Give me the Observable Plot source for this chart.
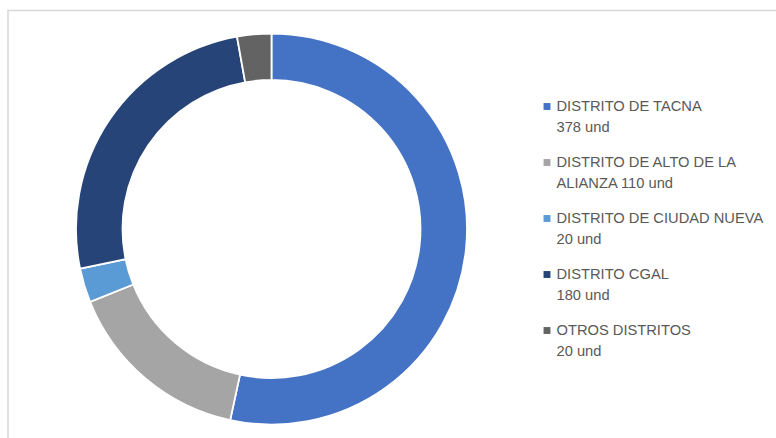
<!DOCTYPE html>
<html><head><meta charset="utf-8">
<script src="https://cdn.jsdelivr.net/npm/d3@7"></script>
<script src="https://cdn.jsdelivr.net/npm/@observablehq/plot@0.6"></script>
<style>body{margin:0;background:#fff;overflow:hidden;}</style>
</head><body><div id="chart"></div>
<script>
const categories = ["DISTRITO DE TACNA", "DISTRITO DE ALTO DE LA ALIANZA", "DISTRITO DE CIUDAD NUEVA", "DISTRITO CGAL", "OTROS DISTRITOS"];
const values = [378, 110, 20, 180, 20];
const colors = ["#4472C4", "#A5A5A5", "#5B9BD5", "#264478", "#636363"];
const legendLine1 = ["DISTRITO DE TACNA", "DISTRITO DE ALTO DE LA", "DISTRITO DE CIUDAD NUEVA", "DISTRITO CGAL", "OTROS DISTRITOS"];
const legendLine2 = ["378 und", "ALIANZA 110 und", "20 und", "180 und", "20 und"];

const data = categories.map((c, i) => ({cat: c, value: values[i], l1: legendLine1[i], l2: legendLine2[i]}));

function donut(index, scales) {
  const pie = d3.pie().sort(null).startAngle(0).endAngle(2 * Math.PI).value(d => d.value)(data);
  const arc = d3.arc().innerRadius(149).outerRadius(195.5);
  const g = d3.create("svg:g").attr("transform", "translate(271.5,229)");
  g.selectAll("path").data(pie).join("path")
    .attr("d", arc)
    .attr("fill", (d, i) => scales.color ? scales.color(d.data.cat) : colors[i])
    .attr("stroke", "#fff")
    .attr("stroke-width", 1.8)
    .attr("stroke-linejoin", "miter");
  return g.node();
}

const font = "Liberation Sans, Arial, sans-serif";
const chart = Plot.plot({
  width: 776,
  height: 438,
  margin: 0,
  style: {fontFamily: font, background: "#fff"},
  y: {type: "point", domain: categories, range: [106, 330], padding: 0, axis: null},
  color: {domain: categories, range: colors},
  marks: [
    Plot.frame({stroke: "#d9d9d9", strokeWidth: 1.6, insetLeft: 7.5, insetTop: 10, insetRight: -20, insetBottom: -20}),
    donut,
    Plot.dot(data, {y: "cat", fill: "cat", symbol: "square", r: 3.9, frameAnchor: "left", dx: 546.5}),
    Plot.text(data, {y: "cat", text: "l1", frameAnchor: "left", dx: 556, textAnchor: "start", fill: "#595959", fontSize: 14.7, fontFamily: font}),
    Plot.text(data, {y: "cat", text: "l2", frameAnchor: "left", dx: 556, dy: 20.7, textAnchor: "start", fill: "#595959", fontSize: 14.7, fontFamily: font})
  ]
});
document.getElementById("chart").appendChild(chart);
</script>
</body></html>
